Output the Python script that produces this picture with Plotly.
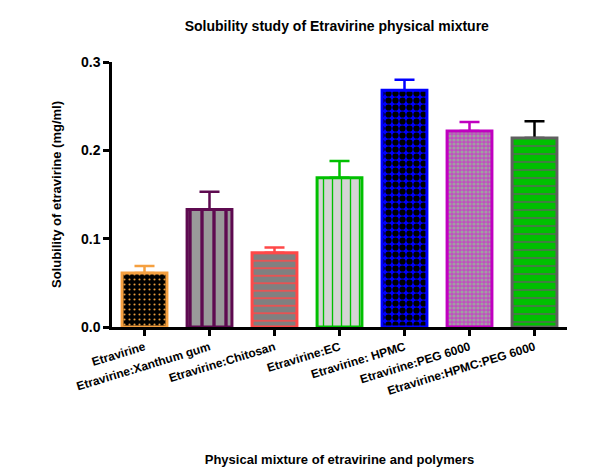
import plotly.graph_objects as go

# Solubility of etravirine and its physical mixtures (mean ± SD, mg/ml)
categories = [
    "Etravirine",
    "Etravirine:Xanthum gum",
    "Etravirine:Chitosan",
    "Etravirine:EC",
    "Etravirine: HPMC",
    "Etravirine:PEG 6000",
    "Etravirine:HPMC:PEG 6000",
]
solubility = [0.061, 0.133, 0.084, 0.169, 0.268, 0.222, 0.214]
sd = [0.008, 0.020, 0.006, 0.019, 0.012, 0.010, 0.019]
y_ticks = [0.0, 0.1, 0.2, 0.3]
y_tick_labels = ["0.0", "0.1", "0.2", "0.3"]

# per-bar styling: outline, error-bar colour and fill pattern
outline = ["#F5A040", "#5E0A50", "#FF4848", "#00C000", "#0000FF", "#C000C0", "#606060"]
err_color = ["#F5A040", "#5E0A50", "#FF4848", "#00C000", "#0000FF", "#C000C0", "#000000"]
patterns = [
    dict(shape=".", fgcolor="#E89A3A", bgcolor="#000000", size=5, solidity=0.14),
    dict(shape="|", fgcolor="#5E0A50", bgcolor="#9A9A9A", size=12, solidity=0.28),
    dict(shape="-", fgcolor="#FF4848", bgcolor="#808080", size=7.5, solidity=0.2),
    dict(shape="|", fgcolor="#00C000", bgcolor="#D4D4D4", size=9, solidity=0.15),
    dict(shape=".", fgcolor="#000000", bgcolor="#0000FF", size=7, solidity=0.62),
    dict(shape=".", fgcolor="#A0A0A0", bgcolor="#C050C0", size=4, solidity=0.5),
    dict(shape="-", fgcolor="#606060", bgcolor="#00C000", size=8, solidity=0.17),
]

FONT = "Arial, Liberation Sans, sans-serif"
BAR_W = 0.69

fig = go.Figure()

# error bars first, so the bars drawn afterwards hide their lower end
for cat, val, err, ec in zip(categories, solubility, sd, err_color):
    fig.add_trace(go.Bar(
        x=[cat], y=[val], width=BAR_W,
        marker=dict(color="rgba(0,0,0,0)", line=dict(width=0)),
        error_y=dict(type="data", array=[err], arrayminus=[0], symmetric=False,
                     color=ec, thickness=2.5, width=10),
        showlegend=False, hoverinfo="skip",
    ))

for cat, val, oc, pat in zip(categories, solubility, outline, patterns):
    fig.add_trace(go.Bar(
        x=[cat], y=[val], width=BAR_W,
        marker=dict(color=pat["bgcolor"], line=dict(color=oc, width=3),
                    pattern=dict(fillmode="replace", **pat)),
        showlegend=False,
    ))

fig.update_layout(
    width=593, height=467,
    margin=dict(l=112, r=26, t=62, b=140),
    paper_bgcolor="white", plot_bgcolor="white",
    barmode="overlay",
    font=dict(family=FONT, color="black"),
    title=dict(
        text="Solubility study of Etravirine physical mixture",
        font=dict(size=14, weight="bold", family=FONT),
        x=0.568, xanchor="center", y=1 - 26 / 467, yanchor="middle",
        xref="container", yref="container",
    ),
)

fig.update_xaxes(
    categoryorder="array", categoryarray=categories,
    range=[-0.5, len(categories) - 0.5],
    automargin=False,
    showline=True, linecolor="black", linewidth=2.5,
    ticks="outside", ticklen=6, tickwidth=2.5, tickcolor="black",
    tickangle=-17,
    tickfont=dict(size=12, weight="bold", family=FONT),
    showgrid=False, zeroline=False,
    title=dict(text="Physical mixture of etravirine and polymers",
               font=dict(size=13, weight="bold", family=FONT), standoff=59),
)

fig.update_yaxes(
    range=[0, 0.3],
    automargin=False,
    tickvals=y_ticks, ticktext=y_tick_labels,
    showline=True, linecolor="black", linewidth=2.5,
    ticks="outside", ticklen=6, tickwidth=2.5, tickcolor="black",
    tickfont=dict(size=14, weight="bold", family=FONT),
    showgrid=False, zeroline=False,
    title=dict(text="Solubility of etravirine (mg/ml)",
               font=dict(size=13, weight="bold", family=FONT), standoff=17),
)

fig.write_html("out.html")
